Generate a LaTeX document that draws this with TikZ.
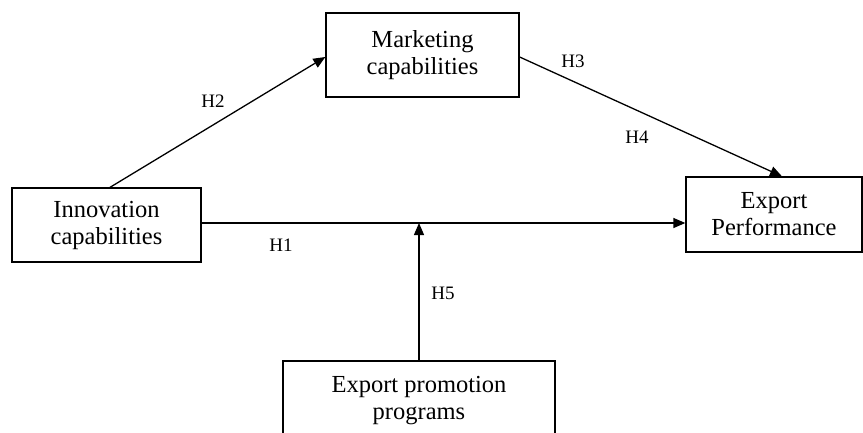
\documentclass[tikz,border=0pt]{standalone}
\usepackage{fontspec}
\setmainfont{Liberation Serif}
\usetikzlibrary{arrows.meta}
\begin{document}
\begin{tikzpicture}[x=1pt,y=-1pt,
  box/.style={draw, line width=1.3pt, align=center, inner sep=0pt,
    font=\fontsize{24.5}{27}\selectfont},
  conn/.style={line width=1.3pt, -{Triangle[length=12pt,width=10pt]}},
  hlab/.style={font=\fontsize{19}{21}\selectfont, inner sep=0pt}]
\useasboundingbox (0,0) rectangle (863,432);
\clip (0,0) rectangle (863,432);
\node[box, minimum width=189pt, minimum height=74pt] (inn) at (106.5,225) {Innovation\\capabilities};
\node[box, minimum width=193pt, minimum height=84pt] (mkt) at (422.5,55) {Marketing\\capabilities};
\node[box, minimum width=176pt, minimum height=75pt] (exp) at (774,214.5) {Export\\Performance};
\node[box, minimum width=272pt, minimum height=80pt] (epp) at (419,401) {Export promotion\\programs};
\draw[conn] ([xshift=3.5pt]inn.north) -- ([yshift=-2pt]mkt.west);
\draw[conn] ([yshift=-2pt]mkt.east) -- ([xshift=8pt]exp.north);
\draw[conn] ([yshift=2pt]inn.east) -- ([yshift=2pt]inn.east -| exp.west);
\coordinate (h1mid) at ([yshift=2pt]epp.north |- inn.east);
\draw[conn] (epp.north) -- (h1mid);
\node[hlab] (h2) at (213,101) {H2};
\node[hlab] (h3) at (573,61) {H3};
\node[hlab] (h4) at (637,137) {H4};
\node[hlab] (h1) at (281,245) {H1};
\node[hlab] (h5) at (443,293) {H5};
\end{tikzpicture}
\end{document}
